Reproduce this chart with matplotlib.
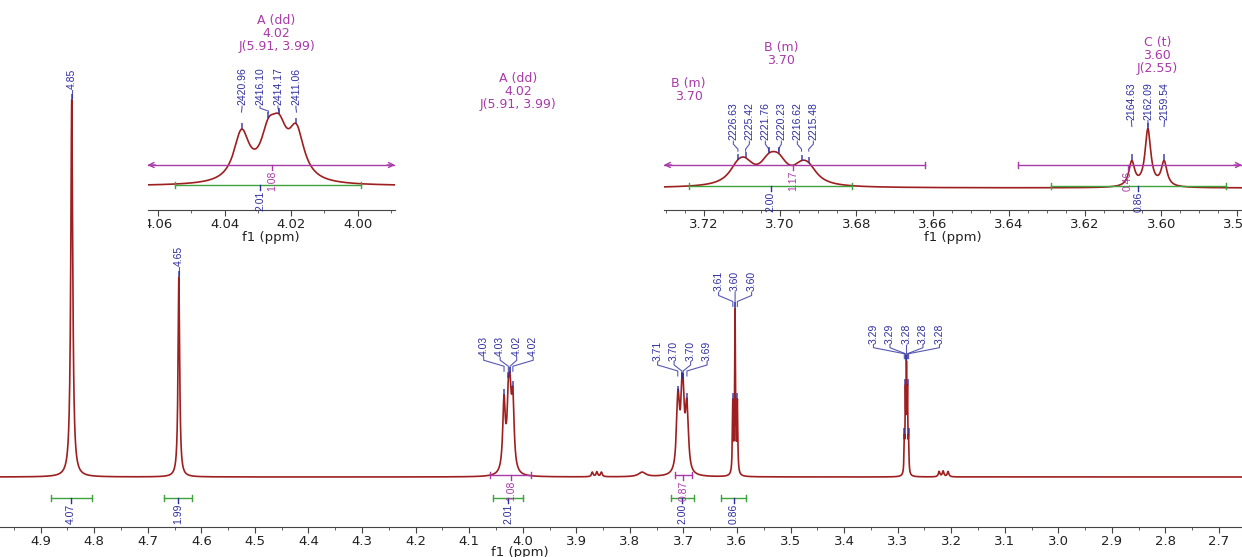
import numpy as np
import matplotlib.pyplot as plt
from matplotlib.ticker import MultipleLocator
from matplotlib.transforms import Bbox, TransformedBbox

MHZ = 600.0

# ---- peak tables (ppm / Hz, relative height, half width) ----
sing_ppm = [4.842, 4.642]
sing_h = [1.0, 0.53]
sing_hw = [0.0022, 0.0018]

a_hz = [2420.96, 2416.10, 2414.17, 2411.06]
a_h = [0.1865, 0.155, 0.155, 0.181]
b_hz = [2226.63, 2225.42, 2221.76, 2220.23, 2216.62, 2215.48]
b_h = [0.1105, 0.1105, 0.138, 0.138, 0.0948, 0.0948]
c_hz = [2164.63, 2162.09, 2159.54]
c_h = [0.185, 0.43, 0.185]
d_ppm = [3.2875, 3.2855, 3.2835, 3.2815, 3.2795]
d_h = [0.08, 0.20, 0.26, 0.20, 0.08]
small_ppm = [3.870, 3.8615, 3.853, 3.777, 3.2225, 3.215, 3.2058]
small_h = [0.012, 0.013, 0.012, 0.012, 0.014, 0.015, 0.014]
small_hw = [0.0018, 0.0018, 0.0018, 0.008, 0.0018, 0.0018, 0.0018]

# main-spectrum peak labels
main_groups = [
    ([4.842], ['4.85']),
    ([4.642], ['4.65']),
    ([4.0349, 4.0268, 4.0236, 4.0184], ['4.03', '4.03', '4.02', '4.02']),
    ([3.7105, 3.7029, 3.7004, 3.6934], ['3.71', '3.70', '3.70', '3.69']),
    ([3.6077, 3.6035, 3.5992], ['3.61', '3.60', '3.60']),
    ([3.2875, 3.2855, 3.2835, 3.2815, 3.2795], ['3.29', '3.29', '3.28', '3.28', '3.28']),
]

# integrals (green) and multiplet ranges (purple)
integ_rng = [(4.8815, 4.805), (4.670, 4.617), (4.055, 3.999), (3.724, 3.681), (3.629, 3.583)]
integ_val = ['4.07', '1.99', '2.01', '2.00', '0.86']
mult_main = [(4.061, 3.984, 4.022, '1.08'), (3.7155, 3.684, 3.700, '0.87')]
mult_ins1 = [(4.08, 3.97, 4.0258, '1.08')]
mult_ins2 = [(3.745, 3.662, 3.6965, '1.17'), (3.6376, 3.55, 3.6087, '0.46')]

ticks_main = np.round(np.arange(2.7, 4.95, 0.1), 1)
ticks_ins1 = [4.06, 4.04, 4.02, 4.00]
ticks_ins2 = [3.72, 3.70, 3.68, 3.66, 3.64, 3.62, 3.60, 3.58]

RED = '#9e1f1f'
BLUE = '#2e2ea0'
MAG = '#a93aa9'
GREEN = '#3da33d'
NARROW = ['Liberation Sans Narrow', 'Liberation Sans', 'DejaVu Sans']

pos = np.concatenate([sing_ppm, np.array(a_hz) / MHZ, np.array(b_hz) / MHZ,
                      np.array(c_hz) / MHZ, d_ppm, small_ppm])
hgt = np.concatenate([sing_h, a_h, b_h, c_h, d_h, small_h])
hw = np.concatenate([sing_hw, [1.7 / MHZ] * 4, [1.7 / MHZ] * 6, [0.55 / MHZ] * 3,
                     [0.0007] * 5, small_hw])


def spec(x):
    x = np.atleast_1d(np.asarray(x, float))
    return (hgt / (1 + ((x[:, None] - pos) / hw) ** 2)).sum(axis=1)


xs = np.linspace(2.6, 5.0, 80000)
ys = spec(xs)

W, H = 1242, 557
fig = plt.figure(figsize=(W / 100, H / 100), dpi=100)


def place(l, t, r, b):
    ax = fig.add_axes([l / W, 1 - b / H, (r - l) / W, (b - t) / H])
    ax.patch.set_visible(False)
    for s in ('left', 'right', 'top'):
        ax.spines[s].set_visible(False)
    ax.spines['bottom'].set_color('#444444')
    ax.set_yticks([])
    return ax


ax = place(0, 0, 1242, 527)
ax.set_xlim(4.976, 2.657)
ax.set_ylim(-50 / 377, 477 / 377)
ax1 = place(147.5, 0, 395, 210)
ax1.set_xlim(4.0632, 3.9888)
ax1.set_ylim(-24 / 261, 186 / 261)
ax2 = place(663.8, 0, 1242, 210)
ax2.set_xlim(3.7305, 3.5788)
ax2.set_ylim(-22 / 133, 188 / 133)

# units per pixel, pixels per ppm
info = {ax: (1 / 377, 535.5), ax1: (1 / 261, 3330.0), ax2: (1 / 133, 3812.0)}

for a in (ax, ax1, ax2):
    a.plot(xs, ys, color=RED, lw=1.2)
    a.tick_params(axis='x', which='both', direction='out', colors='#444444',
                  labelcolor='#222222', labelsize=9.5, pad=2)
    a.tick_params(axis='x', which='major', length=4)
    a.tick_params(axis='x', which='minor', length=2.5)

ax.set_xticks(ticks_main)
ax.set_xticklabels([f'{t:.1f}' for t in ticks_main])
ax.xaxis.set_minor_locator(MultipleLocator(0.05))
ax.set_xlabel('f1 (ppm)', fontsize=9.5, color='#222222')
ax.xaxis.set_label_coords(520 / W, -0.036)

ax1.set_xticks(ticks_ins1)
ax1.set_xticklabels([f'{t:.2f}' for t in ticks_ins1])
ax1.xaxis.set_minor_locator(MultipleLocator(0.01))
ax1.set_xlabel('f1 (ppm)', fontsize=9.5, color='#222222', labelpad=0)
for lbl in ax1.get_xticklabels():
    lbl.set_clip_on(True)
    lbl.set_clip_box(TransformedBbox(Bbox([[0, -1], [1.5, 1]]), ax1.transAxes))

ax2.set_xticks(ticks_ins2)
ax2.set_xticklabels([f'{t:.2f}' for t in ticks_ins2])
ax2.xaxis.set_minor_locator(MultipleLocator(0.005))
ax2.set_xlabel('f1 (ppm)', fontsize=9.5, color='#222222', labelpad=0)


def fan(a, peaks, labels, s=(7, 13, 16), gap_px=16.5, fs=7.5):
    u, ppx = info[a]
    tops = spec(peaks)
    ytop = tops.max()
    c = (max(peaks) + min(peaks)) / 2
    n = len(peaks)
    for i, (p, t) in enumerate(zip(peaks, labels)):
        lx = c + ((n - 1) / 2 - i) * gap_px / ppx
        a.plot([p, p, lx, lx], [ytop + 2 * u, ytop + s[0] * u, ytop + s[1] * u, ytop + s[2] * u],
               color=BLUE, lw=0.8, alpha=0.8)
        a.plot([p, p], [tops[i] + 1 * u, tops[i] + 5 * u], color=BLUE, lw=1.4, alpha=0.7)
        a.text(lx, ytop + (s[2] + 1) * u, t, rotation=90, ha='center', va='bottom',
               fontsize=fs, color=BLUE, family=NARROW)


def rng_bar(a, lo, hi, y_px, lab_ppm, text, color, tcolor):
    u, ppx = info[a]
    y = y_px * u
    xl, xr = a.get_xlim()
    x0, x1 = min(lo, xl), max(hi, xr)
    a.plot([x0, x1], [y, y], color=color, lw=1.0)
    for end, edge, inside, sgn in ((lo, xl, lo < xl, -1), (hi, xr, hi > xr, 1)):
        if inside:
            a.plot([end, end], [y - 3 * u, y + 3 * u], color=color, lw=1.0)
        else:
            a.annotate('', xy=(edge, y), xytext=(edge + sgn * 8 / ppx, y),
                       arrowprops=dict(arrowstyle='->', color=color, lw=1.0,
                                       shrinkA=0, shrinkB=0, mutation_scale=9))
    a.plot([lab_ppm, lab_ppm], [y, y - 5 * u], color=tcolor, lw=1.0)
    a.text(lab_ppm, y - 5.5 * u, text, rotation=90, ha='center', va='top',
           fontsize=7.5, color=tcolor, family=NARROW)


# main spectrum annotations
for peaks, labels in main_groups:
    if len(peaks) == 1:
        fan(ax, peaks, labels, s=(4, 8, 10))
    else:
        fan(ax, peaks, labels)
for (lo, hi), v in zip(integ_rng, integ_val):
    rng_bar(ax, lo, hi, -21, (lo + hi) / 2, v, GREEN, BLUE)
for lo, hi, lp, v in mult_main:
    rng_bar(ax, lo, hi, 2, lp, v, MAG, MAG)

# inset 1 (A)
fan(ax1, list(np.array(a_hz) / MHZ), [f'{v:.2f}' for v in a_hz], s=(3, 6, 8), gap_px=18)
rng_bar(ax1, integ_rng[2][0], integ_rng[2][1], 1, 4.0294, integ_val[2], GREEN, BLUE)
for lo, hi, lp, v in mult_ins1:
    rng_bar(ax1, lo, hi, 21, lp, v, MAG, MAG)

# inset 2 (B, C)
fan(ax2, list(np.array(b_hz) / MHZ), [f'{v:.2f}' for v in b_hz], s=(4, 9, 12), gap_px=16)
fan(ax2, list(np.array(c_hz) / MHZ), [f'{v:.2f}' for v in c_hz], s=(3, 6, 8), gap_px=16.5)
for k in (3, 4):
    lo, hi = integ_rng[k]
    rng_bar(ax2, lo, hi, 2, (lo + hi) / 2, integ_val[k], GREEN, BLUE)
for lo, hi, lp, v in mult_ins2:
    rng_bar(ax2, lo, hi, 23, lp, v, MAG, MAG)

# multiplet titles
mtitles = [
    (ax1, 4.0244, 14, 'A (dd)\n4.02\nJ(5.91, 3.99)'),
    (ax, 4.009, 72, 'A (dd)\n4.02\nJ(5.91, 3.99)'),
    (ax2, 3.6998, 41, 'B (m)\n3.70'),
    (ax2, 3.7240, 77, 'B (m)\n3.70'),
    (ax2, 3.6010, 36, 'C (t)\n3.60\nJ(2.55)'),
]
for a, xp, top_px, txt in mtitles:
    a.text(xp, 1 - top_px / (a.get_window_extent().height), txt,
           transform=a.get_xaxis_transform(), ha='center', va='top',
           fontsize=9, color=MAG, linespacing=1.0)

fig.savefig('out.png', dpi=100)
